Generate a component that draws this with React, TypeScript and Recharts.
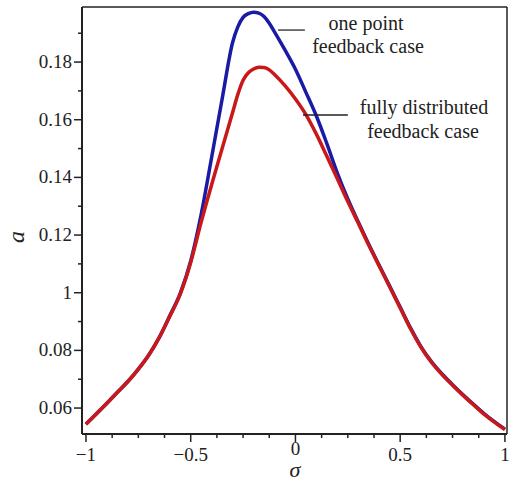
import React from "react";
import { LineChart, Line, XAxis, YAxis, ReferenceLine } from "recharts";

// sigma grid (denser near the peaks) and the two curves
const sigma = [
  -1, -0.95, -0.9, -0.85, -0.8, -0.75, -0.7, -0.65, -0.6, -0.55, -0.5, -0.45, -0.4, -0.35, -0.3, -0.275,
  -0.25, -0.225, -0.2, -0.175, -0.15, -0.125, -0.1, -0.05, 0, 0.05, 0.1, 0.15, 0.2, 0.25, 0.3, 0.35, 0.4,
  0.45, 0.5, 0.55, 0.6, 0.65, 0.7, 0.75, 0.8, 0.85, 0.9, 0.95, 1,
];
const onePoint = [
  0.0544, 0.058, 0.0617, 0.0655, 0.0692, 0.0735, 0.0784, 0.0845, 0.092, 0.0998, 0.111, 0.1272, 0.147,
  0.1672, 0.1868, 0.1922, 0.1955, 0.1968, 0.1973, 0.197, 0.1958, 0.1935, 0.1905, 0.1842, 0.1775, 0.1695,
  0.1613, 0.1517, 0.1415, 0.1325, 0.1245, 0.1168, 0.1095, 0.1023, 0.095, 0.0877, 0.0812, 0.076, 0.0718,
  0.0681, 0.0646, 0.0613, 0.0581, 0.0553, 0.0527,
];
const fullyDistributed = [
  0.0544, 0.058, 0.0617, 0.0655, 0.0692, 0.0735, 0.0784, 0.0845, 0.0918, 0.0995, 0.1105, 0.1245, 0.1375,
  0.15, 0.1625, 0.1688, 0.1737, 0.1763, 0.1776, 0.1782, 0.1781, 0.1773, 0.1757, 0.1718, 0.1672, 0.1618,
  0.155, 0.1473, 0.1395, 0.1316, 0.1241, 0.1165, 0.1092, 0.102, 0.0947, 0.0874, 0.081, 0.0758, 0.0716,
  0.0679, 0.0644, 0.0611, 0.0579, 0.0551, 0.0525,
];

const xTicks = [
  -1, -0.875, -0.75, -0.625, -0.5, -0.375, -0.25, -0.125, 0, 0.125, 0.25, 0.375, 0.5, 0.625, 0.75, 0.875, 1,
];
const xTickLabels: Record<string, string> = {
  "-1": "\u22121",
  "-0.5": "\u22120.5",
  "0": "0",
  "0.5": "0.5",
  "1": "1",
};
const yTicks = [0.06, 0.07, 0.08, 0.09, 0.1, 0.11, 0.12, 0.13, 0.14, 0.15, 0.16, 0.17, 0.18, 0.19];
const yTickLabels: Record<string, string> = {
  "0.06": "0.06",
  "0.08": "0.08",
  "0.1": "1",
  "0.12": "0.12",
  "0.14": "0.14",
  "0.16": "0.16",
  "0.18": "0.18",
};

const X_DOMAIN: [number, number] = [-1.019, 1.01];
const Y_DOMAIN: [number, number] = [0.051, 0.1991];

const data = sigma.map((s, i) => ({ sigma: s, one: onePoint[i], full: fullyDistributed[i] }));

const FONT = "'Liberation Serif', 'Times New Roman', serif";

function XTick(props: any) {
  const { x, y, payload } = props;
  const key = String(Number(payload.value.toFixed(3)));
  const label = xTickLabels[key];
  // the "0" sits a little higher in the original, just above the sigma
  const dy = key === "0" ? 21 : 27;
  return (
    <g>
      <line x1={x} x2={x} y1={y} y2={y + (label ? 8 : 4)} stroke="#222" strokeWidth={1.5} />
      {label && (
        <text x={x} y={y + dy} textAnchor="middle" style={{ fontFamily: FONT, fontSize: 19 }} fill="#222">
          {label}
        </text>
      )}
    </g>
  );
}

function YTick(props: any) {
  const { x, y, payload } = props;
  const key = String(Number(payload.value.toFixed(3)));
  const label = yTickLabels[key];
  return (
    <g>
      <line x1={x - (label ? 8 : 4)} x2={x} y1={y} y2={y} stroke="#222" strokeWidth={1.5} />
      {label && (
        <text x={x - 10} y={y + 6} textAnchor="end" style={{ fontFamily: FONT, fontSize: 19 }} fill="#222">
          {label}
        </text>
      )}
    </g>
  );
}

export default function App() {
  return (
    <div style={{ position: "absolute", left: 0, top: 0, width: 509, height: 481, background: "#fff" }}>
      <LineChart width={509} height={481} data={data} margin={{ top: 7, right: 2, left: 0, bottom: 0 }}>
        <XAxis
          dataKey="sigma"
          type="number"
          domain={X_DOMAIN}
          ticks={xTicks}
          allowDataOverflow
          interval={0}
          height={47}
          tickLine={false}
          tickSize={0}
          tickMargin={0}
          axisLine={{ stroke: "#222", strokeWidth: 2 }}
          tick={<XTick />}
        />
        <YAxis
          type="number"
          domain={Y_DOMAIN}
          ticks={yTicks}
          allowDataOverflow
          interval={0}
          width={82}
          tickLine={false}
          tickSize={0}
          tickMargin={0}
          axisLine={{ stroke: "#222", strokeWidth: 2 }}
          tick={<YTick />}
        />
        <ReferenceLine y={Y_DOMAIN[1]} stroke="#222" strokeWidth={1.5} />
        <ReferenceLine x={X_DOMAIN[1]} stroke="#222" strokeWidth={1.5} />
        <Line
          type="monotone"
          dataKey="one"
          stroke="#1a1aa4"
          strokeWidth={3.5}
          dot={false}
          isAnimationActive={false}
        />
        <Line
          type="monotone"
          dataKey="full"
          stroke="#c9181a"
          strokeWidth={3.5}
          dot={false}
          isAnimationActive={false}
        />
        <ReferenceLine
          segment={[
            { x: -0.083, y: 0.1911 },
            { x: 0.045, y: 0.1911 },
          ]}
          stroke="#444"
          strokeWidth={1.5}
        />
        <ReferenceLine
          segment={[
            { x: 0.036, y: 0.1616 },
            { x: 0.25, y: 0.1616 },
          ]}
          stroke="#222"
          strokeWidth={1.5}
        />
      </LineChart>
      <svg
        width={509}
        height={481}
        style={{ position: "absolute", left: 0, top: 0, pointerEvents: "none" }}
      >
        <g style={{ fontFamily: FONT, fontSize: 20 }} fill="#222" textAnchor="middle">
          <text x={366} y={30}>one point</text>
          <text x={368} y={53}>feedback case</text>
          <text x={424} y={114}>fully distributed</text>
          <text x={423} y={138}>feedback case</text>
        </g>
        <text
          x={17}
          y={237}
          transform="rotate(-90 17 237)"
          dy={7}
          textAnchor="middle"
          style={{ fontFamily: FONT, fontStyle: "italic", fontSize: 24 }}
          fill="#222"
        >
          a
        </text>
        <text
          x={295}
          y={477}
          textAnchor="middle"
          style={{ fontFamily: FONT, fontStyle: "italic", fontSize: 22 }}
          fill="#222"
        >
          σ
        </text>
      </svg>
    </div>
  );
}
